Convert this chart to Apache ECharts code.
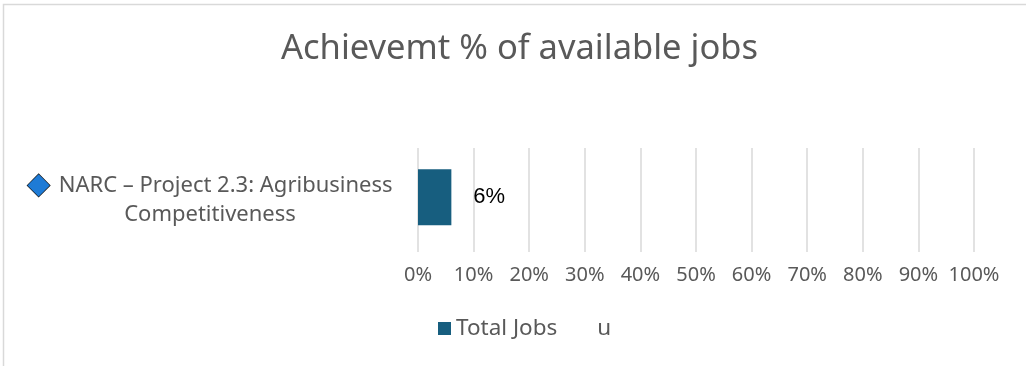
<!DOCTYPE html>
<html><head><meta charset="utf-8">
<script src="https://cdn.jsdelivr.net/npm/echarts@6/dist/echarts.min.js"></script>
<style>html,body{margin:0;padding:0;background:#fff}#c{width:1026px;height:366px}</style>
</head><body><div id="c"></div>
<script>
const categories = ['NARC – Project 2.3: Agribusiness\nCompetitiveness'];
const totalJobs = [6];
const xTicks = [0, 10, 20, 30, 40, 50, 60, 70, 80, 90, 100];
const titleText = 'Achievemt % of available jobs';
const legendNames = ['Total Jobs', 'u'];

const chart = echarts.init(document.getElementById('c'));
const FONT = '"Noto Sans", "Open Sans", sans-serif';
chart.setOption({
  animation: false,
  backgroundColor: '#fff',
  graphic: [{
    type: 'rect', shape: {x: 3.5, y: 4.5, width: 1200, height: 600},
    style: {fill: 'none', stroke: '#d9d9d9', lineWidth: 1.5}, silent: true
  }],
  title: {
    text: titleText, left: 276, top: 27,
    textStyle: {fontFamily: FONT, fontSize: 34.5, fontWeight: 'normal', color: '#595959'}
  },
  legend: {
    left: 438, top: 317, padding: 0,
    itemWidth: 13, itemHeight: 13, itemGap: 22,
    textStyle: {fontFamily: FONT, fontSize: 22.5, color: '#595959'},
    data: [{name: legendNames[0], icon: 'rect'}, {name: legendNames[1], icon: 'none'}]
  },
  grid: {left: 418, right: 52, top: 148, bottom: 114, containLabel: false},
  xAxis: {
    type: 'value', min: 0, max: 100, interval: 10,
    axisLine: {show: false}, axisTick: {show: false},
    splitLine: {lineStyle: {color: '#d9d9d9', width: 1.5}},
    axisLabel: {
      margin: 13, fontFamily: FONT, fontSize: 20, color: '#595959',
      formatter: v => xTicks.includes(v) ? v + '%' : ''
    }
  },
  yAxis: {
    type: 'category', data: categories,
    axisLine: {show: false}, axisTick: {show: false},
    axisLabel: {
      margin: 25, fontFamily: FONT, fontSize: 22, color: '#595959',
      align: 'center', lineHeight: 29, padding: [0, 366, 0, 0],
      formatter: v => {
        const parts = v.split('\n');
        return '{d|◆}{s| }' + parts[0] + '\n' + parts.slice(1).join('\n');
      },
      rich: {
        d: {color: '#1e7bd6', textBorderColor: '#111', textBorderWidth: 1.4, fontSize: 29, fontFamily: 'DejaVu Sans'},
        s: {fontSize: 22, width: 9}
      }
    }
  },
  series: [{
    name: legendNames[0], type: 'bar', data: totalJobs, barWidth: 56,
    itemStyle: {color: '#175e7f'},
    label: {
      show: true, position: 'right', distance: 22,
      formatter: p => p.value + '%',
      fontFamily: '"Liberation Sans", Arial, sans-serif', fontSize: 22, color: '#000'
    }
  }, {
    name: legendNames[1], type: 'bar', data: [], itemStyle: {color: 'transparent'}
  }]
});
</script></body></html>
